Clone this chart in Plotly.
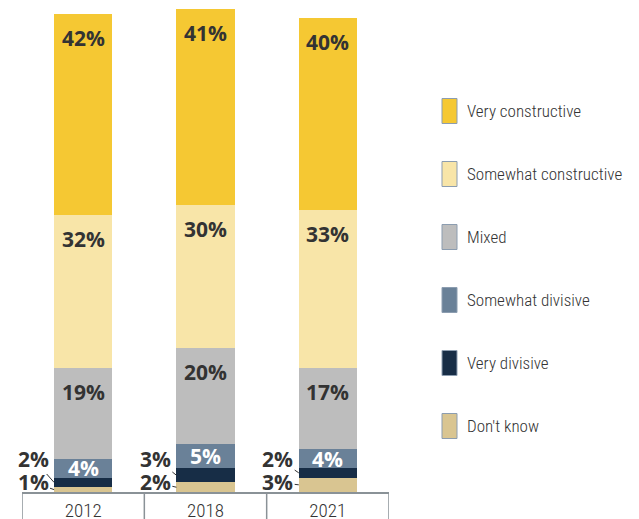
import plotly.graph_objects as go

# Données
years = ["2012", "2018", "2021"]
series_names = ["Don't know", "Very divisive", "Somewhat divisive",
                "Mixed", "Somewhat constructive", "Very constructive"]
dont_know = [1, 2, 3]
very_divisive = [2, 3, 2]
somewhat_divisive = [4, 5, 4]
mixed = [19, 20, 17]
somewhat_constructive = [32, 30, 33]
very_constructive = [42, 41, 40]

series = [dont_know, very_divisive, somewhat_divisive,
          mixed, somewhat_constructive, very_constructive]

colors = {
    "Don't know": "#D9C591",
    "Very divisive": "#172D46",
    "Somewhat divisive": "#6A8198",
    "Mixed": "#BDBDBD",
    "Somewhat constructive": "#F8E5A8",
    "Very constructive": "#F5C833",
}

LABEL_FONT = dict(family="Open Sans", size=21, color="#333333")
TEXT_FONT = "Roboto Condensed, Roboto, sans-serif"
BARGAP = 0.525
half_w = (1 - BARGAP) / 2

fig = go.Figure()
for name, vals in zip(series_names, series):
    fig.add_trace(go.Bar(
        x=years, y=vals, name=name,
        marker=dict(color=colors[name], line=dict(width=0)),
        showlegend=False, hoverinfo="skip"
    ))

# Etiquettes de valeurs
bottoms = [0] * len(years)
outside_y = {"Don't know": 2.0, "Very divisive": 7.0}
for name, vals in zip(series_names, series):
    for i, v in enumerate(vals):
        top = bottoms[i] + v
        txt = f"<b>{v}%</b>"
        if name in outside_y:
            fig.add_annotation(
                x=i - half_w, y=bottoms[i] + v / 2, xref="x", yref="y",
                ax=i - 0.41, ay=outside_y[name], axref="x", ayref="y",
                text=txt, showarrow=True, arrowhead=0, arrowwidth=1,
                arrowcolor="#333333", standoff=0, font=LABEL_FONT
            )
        elif v >= 10:
            fig.add_annotation(
                x=i, y=top, yshift=-24, showarrow=False, text=txt,
                font=LABEL_FONT
            )
        else:
            col = "white" if name == "Somewhat divisive" else "#333333"
            fig.add_annotation(
                x=i, y=bottoms[i] + v / 2, showarrow=False, text=txt,
                font=dict(family="Open Sans", size=21, color=col)
            )
        bottoms[i] = top

# Cadres sous l'axe
for b in [-0.5, 0.5, 1.5, 2.5]:
    fig.add_shape(type="line", xref="x", yref="paper", x0=b, x1=b,
                  y0=0, y1=-0.07, line=dict(color="#8A9297", width=1.5))

# Légende manuelle
W, H = 639, 519
L, R, T, B = 22, 250, 4, 27
pw, ph = W - L - R, H - T - B


def px_x(x):
    return (x - L) / pw


def px_y(y):
    return (H - B - y) / ph


for k, name in enumerate(reversed(series_names)):
    cy = 111 + k * 63
    fig.add_shape(type="rect", xref="paper", yref="paper",
                  x0=px_x(442), x1=px_x(457), y0=px_y(cy + 12.5), y1=px_y(cy - 12.5),
                  fillcolor=colors[name], line=dict(color="#8C9DB0", width=1))
    fig.add_annotation(xref="paper", yref="paper", x=px_x(465), y=px_y(cy),
                       xanchor="left", yanchor="middle", showarrow=False,
                       text=name, font=dict(family=TEXT_FONT, size=17,
                                            color="#333333", weight=300))

fig.update_layout(
    barmode="stack",
    bargap=BARGAP,
    width=W, height=H,
    margin=dict(l=L, r=R, t=T, b=B),
    plot_bgcolor="white",
    paper_bgcolor="white",
    xaxis=dict(showline=True, linecolor="#8A9297", linewidth=1.5,
               ticks="", showgrid=False, automargin=False,
               range=[-0.5, 2.5],
               tickfont=dict(family=TEXT_FONT, size=19, color="#333333",
                             weight=300)),
    yaxis=dict(visible=False, range=[0, 102]),
)

fig.write_html("out.html", config={"displayModeBar": False},
               post_script="document.body.style.margin='0';")
